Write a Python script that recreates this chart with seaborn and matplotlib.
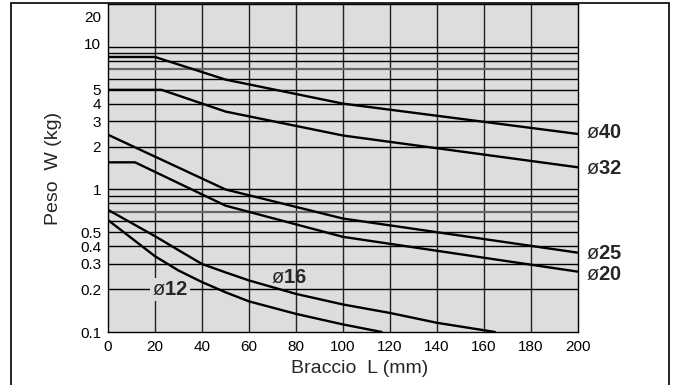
import matplotlib
matplotlib.use('Agg')
import matplotlib.pyplot as plt
import seaborn as sns
import pandas as pd
from matplotlib.lines import Line2D
from matplotlib.transforms import ScaledTranslation

sns.set_style('white')
plt.rcParams['font.family'] = ['Liberation Sans', 'DejaVu Sans']
plt.rcParams['mathtext.fontset'] = 'custom'
plt.rcParams['mathtext.rm'] = 'Liberation Sans'
plt.rcParams['mathtext.bf'] = 'Liberation Sans:bold'

# ---- data ----
d40_L = [0, 20, 50, 100, 200]
d40_W = [8.5, 8.5, 5.9, 4.0, 2.45]
d32_L = [0, 22.8, 50, 100, 200]
d32_W = [5.0, 5.0, 3.52, 2.39, 1.43]
d25_L = [0, 50, 100, 200]
d25_W = [2.42, 1.0, 0.625, 0.36]
d20_L = [0, 11.5, 50, 100, 200]
d20_W = [1.55, 1.55, 0.77, 0.465, 0.265]
d16_L = [0, 20, 30, 40, 50, 60, 80, 100, 120, 140, 164.7]
d16_W = [0.72, 0.47, 0.375, 0.30, 0.262, 0.23, 0.185, 0.156, 0.136, 0.116, 0.1]
d12_L = [0, 20, 30, 40, 50, 60, 80, 100, 116.5]
d12_W = [0.61, 0.34, 0.27, 0.224, 0.19, 0.164, 0.134, 0.113, 0.1]

series_names = ['40', '32', '25', '20', '16', '12']
series_L = [d40_L, d32_L, d25_L, d20_L, d16_L, d12_L]
series_W = [d40_W, d32_W, d25_W, d20_W, d16_W, d12_W]

x_ticks = [0, 20, 40, 60, 80, 100, 120, 140, 160, 180, 200]
y_ticks = [0.1, 0.2, 0.3, 0.4, 0.5, 1, 2, 3, 4, 5, 10, 20]
y_tick_labels = ['0.1', '0.2', '0.3', '0.4', '0.5', '1', '2', '3', '4', '5', '10', '20']
h_grid = [0.2, 0.3, 0.4, 0.5, 0.6, 0.7, 0.8, 0.9, 1, 2, 3, 4, 5, 6, 7, 8, 9, 10]

# label positions (data coords)
label_pos = {'40': (203.5, 2.51), '32': (203.5, 1.40), '25': (203.5, 0.358),
             '20': (203.5, 0.255), '16': (77, 0.243), '12': (26.5, 0.2)}

rows = []
for name, Ls, Ws in zip(series_names, series_L, series_W):
    for i, (l, w) in enumerate(zip(Ls, Ws)):
        rows.append({'series': name, 'L': l, 'W': w, 'order': i})
df = pd.DataFrame(rows)

fig = plt.figure(figsize=(6.75, 3.85), dpi=100)
ax = fig.add_axes([108/675, 53/385, 470/675, 328/385])
ax.set_facecolor('#dddddd')
ax.set_yscale('log')
ax.set_xlim(0, 200)
ax.set_ylim(0.1, 20)

for v in x_ticks[1:-1]:
    ax.axvline(v, color='#222222', lw=1.0, zorder=1)
for v in h_grid:
    if v in (0.7, 7):
        ax.axhline(v, color='#666666', lw=1.6, zorder=1)
    else:
        ax.axhline(v, color='black', lw=1.0, zorder=1)

sns.lineplot(data=df, x='L', y='W', hue='series', units='series', estimator=None,
             sort=False, palette=['black'] * 6, legend=False, lw=1.7, ax=ax, zorder=3)

ax.set_xticks(x_ticks)
ax.set_xticklabels([str(t) for t in x_ticks])
ax.set_yticks(y_ticks)
ax.set_yticklabels(y_tick_labels)
ax.minorticks_off()
ax.tick_params(axis='both', length=0, labelsize=11, colors='black')
ax.tick_params(axis='y', pad=5)
ax.tick_params(axis='x', pad=6)

for lab in ax.get_yticklabels():
    if lab.get_text() == '20':
        lab.set_transform(lab.get_transform() + ScaledTranslation(0, -12/100, fig.dpi_scale_trans))
    if lab.get_text() == '10':
        lab.set_transform(lab.get_transform() + ScaledTranslation(0, 3/100, fig.dpi_scale_trans))

for s in ax.spines.values():
    s.set_color('black')
    s.set_linewidth(1.0)
    s.set_visible(True)

ax.set_xlabel('Braccio  L (mm)', fontsize=14)
ax.set_ylabel('Peso  W (kg)', fontsize=14)
ax.xaxis.set_label_coords(0.536, -0.085)
ax.yaxis.set_label_coords(-0.098, 0.5)

for name in series_names:
    x, y = label_pos[name]
    kw = dict(fontsize=14.5, va='center', zorder=4, clip_on=False)
    if name in ('16', '12'):
        kw['ha'] = 'center'
    else:
        kw['ha'] = 'left'
    if name == '12':
        kw['bbox'] = dict(facecolor='#dddddd', edgecolor='none', pad=1.5)
    ax.text(x, y, 'ø$\\mathbf{' + name + '}$', **kw)

# outer frame (left, top, right)
fx0, fx1, fy = 11/675, 669/675, 1 - 3.3/385
fig.add_artist(Line2D([fx0, fx0], [0, fy], transform=fig.transFigure, color='black', lw=1.2))
fig.add_artist(Line2D([fx0, fx1], [fy, fy], transform=fig.transFigure, color='black', lw=1.2))
fig.add_artist(Line2D([fx1, fx1], [0, fy], transform=fig.transFigure, color='black', lw=1.2))

fig.savefig('out.png', dpi=100)
